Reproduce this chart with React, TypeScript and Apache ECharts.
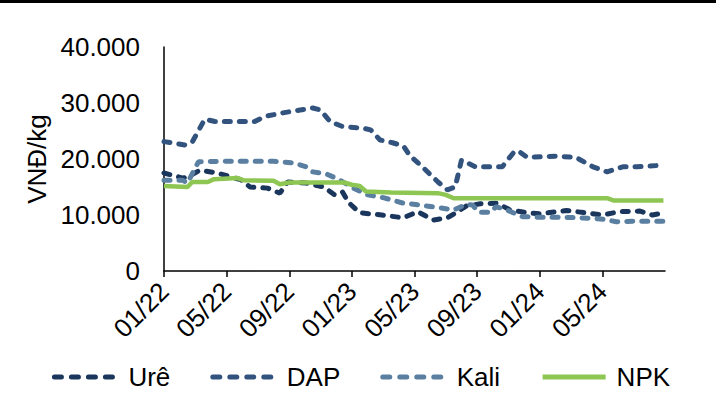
import React, { useEffect, useRef } from "react";
import * as echarts from "echarts";

// x = months since 01/2022, y = VNĐ/kg
const ure: [number, number][] = [
  [0, 17500], [1.2, 16600], [1.5, 16800], [2.3, 18000], [3.4, 17500], [4.9, 16300],
  [5.5, 15000], [6.6, 14800], [7.4, 13900], [7.9, 15900], [9.1, 15700], [10.2, 15000],
  [10.9, 13600], [11.4, 14100], [11.8, 12200], [12.5, 10400], [13.9, 10000], [15.3, 9500],
  [16.2, 10600], [17.2, 9100], [18.1, 9500], [18.7, 10500], [19.3, 11600], [20.2, 12000],
  [21.3, 12100], [22.1, 10900], [23.2, 10400], [24.0, 10200], [25.7, 10800], [26.9, 10400],
  [28.0, 10000], [29.1, 10600], [30.4, 10700], [31.2, 10000], [31.9, 10400],
];
const dap: [number, number][] = [
  [0, 23100], [1.34, 22500], [1.8, 23000], [2.6, 27100], [3.26, 26700], [5.8, 26700],
  [6.45, 27600], [7.5, 28200], [8.7, 28750], [9.5, 29100], [10.0, 28750], [10.6, 26700],
  [11.4, 25800], [12.7, 25500], [13.2, 25200], [13.8, 23400], [14.6, 22900], [15.3, 22300],
  [15.7, 20600], [16.5, 18600], [17.5, 15900], [18.1, 14500], [18.6, 15000], [19.0, 19800],
  [19.9, 18600], [21.6, 18600], [22.4, 21400], [22.7, 21300], [23.2, 20300], [25.1, 20500],
  [26.3, 20300], [27.4, 18600], [28.3, 17700], [29.3, 18600], [30.2, 18600], [31.9, 18900],
];
const kali: [number, number][] = [
  [0, 16200], [1.2, 16200], [1.5, 15700], [2.2, 19500], [4.1, 19600], [7.0, 19600],
  [8.3, 19300], [9.1, 18600], [9.5, 17700], [10.4, 17300], [11.2, 16300], [12.1, 14800],
  [13.0, 13600], [14.0, 13100], [15.3, 12100], [16.3, 11800], [17.6, 11300], [18.5, 10900],
  [19.3, 11900], [19.7, 11800], [20.1, 10500], [20.9, 10500], [21.2, 11500], [21.9, 10900],
  [22.9, 9700], [24.0, 9600], [25.3, 9600], [26.6, 9500], [27.9, 9300], [28.9, 8800],
  [30.0, 8900], [31.9, 8900],
];
const npk: [number, number][] = [
  [0, 15200], [1.5, 15000], [1.8, 15900], [2.8, 15900], [3.2, 16400], [4.7, 16600],
  [5.1, 16200], [7.0, 16100], [7.4, 15500], [8.0, 15800], [11.5, 15800], [12.0, 15400],
  [12.5, 15200], [12.9, 14200], [14.5, 14000], [17.5, 13900], [18.0, 13600], [18.5, 13000],
  [28.3, 13000], [28.7, 12600], [31.9, 12600],
];
const seriesNames = ["Urê", "DAP", "Kali", "NPK"];
const colors = ["#1B365D", "#33537F", "#5A7FA0", "#8DC652"];
const yTicks = [0, 10000, 20000, 30000, 40000];
const xTicks = [0, 4, 8, 12, 16, 20, 24, 28]; // 01/22 ... 05/24

const fmtThousands = (v: number) =>
  String(Math.round(v)).replace(/\B(?=(\d{3})+(?!\d))/g, ".");

const fmtMonth = (m: number) => {
  const r = Math.round(m);
  const mm = (r % 12) + 1;
  const yy = 22 + Math.floor(r / 12);
  return (mm < 10 ? "0" + mm : String(mm)) + "/" + yy;
};

export default function App() {
  const ref = useRef<HTMLDivElement>(null);
  useEffect(() => {
    document.body.style.margin = "0";
    const chart = echarts.init(ref.current!, null, { renderer: "svg" });
    const font = "'Liberation Sans', Arial, sans-serif";
    const dashed = (i: number) => ({
      width: 5,
      color: colors[i],
      type: [6, 9] as any,
      cap: "round" as const,
    });
    const datasets = [ure, dap, kali, npk];
    chart.setOption({
      animation: false,
      textStyle: { fontFamily: font },
      graphic: [
        { type: "rect", left: 0, top: 0, shape: { x: 0, y: 0, width: 716, height: 3 }, style: { fill: "#000" } },
      ],
      grid: { left: 164, right: 57, top: 47, bottom: 138, containLabel: false },
      legend: {
        bottom: 14,
        left: "center",
        itemGap: 40,
        itemWidth: 63,
        itemHeight: 14,
        itemStyle: { opacity: 0 },
        textStyle: { fontSize: 26, color: "#000", fontFamily: font, padding: [0, 0, 0, 6] },
        data: seriesNames.map((n, i) => ({
          name: n,
          lineStyle:
            i === 3
              ? { width: 5, color: colors[i], type: "solid" }
              : { width: 5, color: colors[i], type: [7, 10], cap: "round" },
        })),
      },
      xAxis: {
        type: "value",
        min: 0,
        max: 32,
        interval: 4,
        splitLine: { show: false },
        axisLine: { show: true, lineStyle: { color: "#000", width: 1.5 } },
        axisTick: { show: true, length: 6, customValues: xTicks, lineStyle: { color: "#000", width: 1.5 } },
        axisLabel: {
          rotate: 45,
          fontSize: 26,
          color: "#000",
          margin: 16,
          customValues: xTicks,
          formatter: (v: number) => fmtMonth(v),
        },
      },
      yAxis: {
        type: "value",
        min: yTicks[0],
        max: yTicks[yTicks.length - 1],
        interval: 10000,
        name: "VNĐ/kg",
        nameLocation: "middle",
        nameRotate: 90,
        nameGap: 110,
        nameTextStyle: { fontSize: 26, color: "#000" },
        splitLine: { show: false },
        axisLine: { show: true, lineStyle: { color: "#000", width: 1.5 } },
        axisTick: { show: false },
        axisLabel: { fontSize: 26, color: "#000", margin: 24, formatter: (v: number) => fmtThousands(v) },
      },
      series: datasets.map((d, i) => ({
        name: seriesNames[i],
        type: "line",
        data: d,
        symbol: "none",
        color: colors[i],
        lineStyle: i === 3 ? { width: 4.5, color: colors[i] } : dashed(i),
      })),
    });
    return () => chart.dispose();
  }, []);
  return <div ref={ref} style={{ width: 722, height: 409 }} />;
}
